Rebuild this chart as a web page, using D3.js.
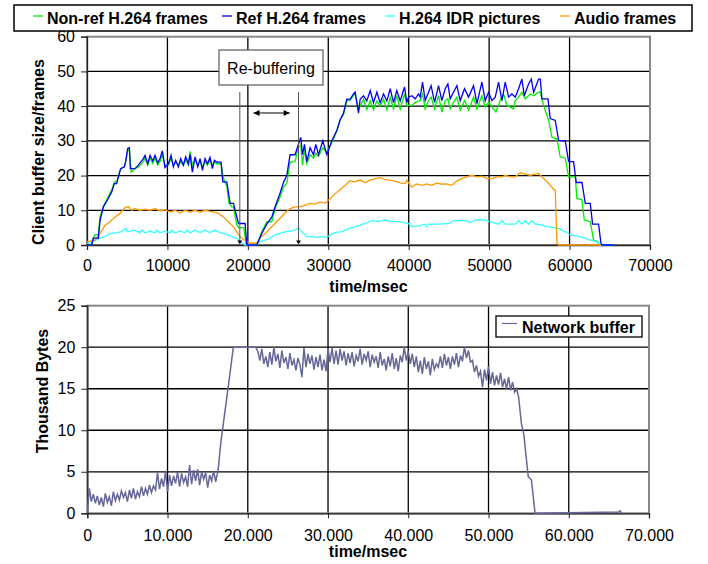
<!DOCTYPE html>
<html>
<head>
<meta charset="utf-8">
<script src="https://cdn.jsdelivr.net/npm/d3@7"></script>
<style>
  body { margin: 0; background: #fff; }
  svg { display: block; font-family: Arial, "Liberation Sans", sans-serif; }
</style>
</head>
<body>
<svg width="708" height="564"></svg>
<script>
// top chart: client buffer, [time ms, frames]
const refFrames = [[0,0],[580,0],[790,2],[1410,2],[1620,7],[2030,11],[2650,13.4],[3070,15.3],[3400,17.7],[3690,17.7],[3900,19.6],[4190,22],[4640,22.5],[4810,24],[5060,27.8],[5270,28],[5390,22],[5970,22],[6390,23],[7010,24.9],[7220,25.8],[7550,23.4],[7840,25.8],[8170,24.2],[8460,25.8],[8790,23.6],[9080,24.9],[9370,27.1],[9700,22.3],[10120,23.4],[10450,25.8],[10740,22.5],[11030,24.4],[11360,22.5],[11650,24.9],[11980,23],[12270,25.4],[12610,23.4],[12810,26.1],[13100,21],[13440,25.4],[13770,22.5],[14060,24.9],[14350,21.5],[14680,24.9],[14970,23.4],[15300,25.2],[15590,22],[15840,24.4],[16130,23.9],[16670,23.9],[16880,18.2],[17380,18.2],[17800,12],[18210,12],[18830,6.2],[19660,6.2],[19870,0],[21100,0],[21730,3.3],[22350,6],[22970,8],[23390,11],[24010,15],[24420,18],[24840,20],[25250,26],[25870,26],[26290,29],[26580,31],[26790,26],[27040,29],[27330,24],[27740,28],[28160,26],[28450,29],[28780,26],[29320,30],[29820,26],[30440,30],[31060,33],[31470,36],[31890,38],[32300,42],[32720,42],[33130,43.5],[33340,44],[33760,38],[33960,42],[34380,43],[34790,41.5],[35210,44.5],[35620,41],[36040,44],[36450,41],[36870,43.5],[37280,41.5],[37700,45],[38110,41],[38520,44.5],[38940,41.5],[39480,45.5],[39770,41],[39970,42.6],[40390,43],[40800,42.1],[41220,43.5],[41430,42.6],[41720,46.9],[42050,41.6],[42460,44],[42790,45.9],[43210,41.1],[43710,45.9],[44120,41.6],[44540,45],[44870,46.4],[45160,42.1],[45570,44],[45990,45.9],[46400,41.6],[46940,45],[47440,42.6],[48060,45.9],[48480,40.7],[49100,46.9],[49510,41.6],[49930,44],[50340,41.6],[50760,42.6],[51170,46.9],[51590,41.6],[52000,46.9],[52420,42.6],[52830,43.5],[53250,42.6],[53660,45],[54070,47.8],[54370,43],[54900,46.4],[55240,47.8],[55530,44],[56150,47.8],[56360,47.8],[56560,42.1],[57310,42.1],[57600,36.4],[58220,35.9],[58640,30.1],[59460,30],[59880,24],[60500,24],[60830,18],[61540,18],[61950,12],[62570,12],[62860,6],[63610,6],[63900,0.5],[64030,0],[65500,0]]

const nonRefFrames = [[0,0],[580,0],[790,2],[1000,3],[1410,3],[1620,8],[2030,11],[2650,14],[3070,15.8],[3400,18.2],[3690,18.2],[3900,20],[4190,22],[4640,22.5],[4810,24],[5060,27.5],[5270,27],[5500,21],[5970,22],[6390,22.5],[7010,24],[7220,25],[7550,23],[7840,25],[8170,23.5],[8460,25],[8790,23],[9080,24],[9370,26],[9700,23],[10120,23],[10450,25],[10740,23],[11030,24],[11360,23],[11650,24],[11980,23],[12270,24.5],[12610,23],[12810,27],[13100,23],[13440,24.5],[13770,23],[14060,24.5],[14350,22.5],[14680,24],[14970,23],[15300,24.5],[15590,23],[15840,24],[16130,23.4],[16670,23.4],[16880,20],[17160,18],[17380,17],[17650,12],[18000,11],[18210,11],[18600,6],[18830,5],[19500,5],[19800,0],[21100,0],[21730,3.8],[22350,6.7],[22970,6.7],[23390,10.5],[24010,13.9],[24420,16.7],[24840,17.7],[25250,23.9],[25870,24],[26290,28.2],[26580,28.7],[26790,23],[27040,27.5],[27330,23.5],[27740,26],[28160,25],[28450,26.5],[28780,25.5],[29320,28],[29820,26.5],[30440,29.5],[31060,32.8],[31470,36],[31890,37.5],[32300,41.5],[32720,41.7],[33130,43],[33340,43.5],[33760,39],[33960,40],[34380,42],[34790,39],[35210,41.5],[35620,39],[36040,41.5],[36450,40],[36870,42],[37280,39],[37700,42.5],[38110,39.2],[38520,43],[38940,39.2],[39480,43.5],[39770,40],[39970,40.2],[40390,40.2],[40800,41.1],[41430,41.6],[41720,43.5],[42050,39.2],[42460,41.6],[42790,42.6],[43210,39.2],[43710,43],[44120,38.3],[44540,41.6],[44870,42.1],[45160,39.2],[45570,41.1],[45990,42.6],[46400,38.8],[46940,41.6],[47440,38.8],[48060,42.6],[48480,39.2],[49100,43],[49510,39.7],[49930,41.1],[50340,39.7],[50840,38.3],[51380,41.6],[51790,43.5],[52210,40.2],[52620,39.7],[53040,39.2],[53250,41.6],[53660,42.6],[54070,44],[54490,42.1],[55110,43.5],[55530,43],[56150,44],[56360,44],[56770,40.2],[57390,35.9],[57810,31],[58430,30.5],[58840,25.4],[59460,25],[59880,19.6],[60710,19.6],[60910,13.4],[61540,13],[61830,7.2],[62570,6.7],[62990,1.4],[63490,1],[63740,0]]

const idrPictures = [[0,0.5],[740,1],[1620,2],[2240,2.4],[2860,3.3],[3480,3.5],[4230,3.8],[4810,4.8],[5020,3.8],[5970,4.3],[6590,3.5],[6800,4.3],[7220,3.5],[7840,4],[8460,3.5],[8670,4.3],[9080,3.5],[9700,4],[10330,3.5],[10540,4.3],[10950,3.5],[11570,4],[12190,3.6],[12400,4.3],[12810,3.5],[13440,4.3],[14060,3.6],[14680,4.3],[15300,3.6],[15920,4.3],[16540,3.5],[17160,3.3],[17990,2.4],[18620,2],[19030,1],[19660,0],[21100,0],[21520,1],[22140,1.4],[22770,2],[23390,2.9],[24630,3.8],[25870,4.3],[26290,5],[26700,3.8],[27330,2.4],[27950,2.4],[28570,2.2],[29200,2.4],[29820,2.2],[30440,3.2],[31060,3.7],[31680,3.8],[32310,4.5],[32930,5],[33760,5.5],[34590,6.2],[35420,7],[36250,6.8],[37070,7.2],[37690,6.8],[38320,6.8],[39140,6.5],[39970,6.2],[40390,5.3],[41220,5.5],[42050,6],[42260,5.3],[42460,6],[43710,6],[44950,6.2],[45570,7],[47230,7],[47650,6.4],[48270,7.2],[49510,7.2],[50130,6.7],[51170,6],[51590,7],[52000,6],[53250,6],[53660,7],[54070,6],[54490,7],[54900,6],[55320,7],[55730,6],[56560,5.8],[56980,5.3],[57810,5.1],[58640,4.8],[59050,4.3],[59460,3.8],[60090,2.9],[61330,2.4],[62570,1.4],[63400,1],[63820,0],[65480,0]]

const audioFrames = [[0,1],[1000,1.4],[1620,3.3],[2240,5.7],[2860,6.7],[3480,8.1],[4100,9.1],[4730,10.8],[5140,11],[5560,10],[5970,10.5],[6590,10],[7220,10.3],[7840,10],[8460,10.5],[9080,9.8],[9700,10.2],[10330,9.5],[10950,10],[11570,9.2],[12190,10],[12810,9.5],[13440,10],[14060,9.5],[14680,10],[15300,9.7],[15920,9.5],[16340,9.1],[16960,8.1],[17580,6.7],[18200,5.3],[18620,3.8],[19030,2.4],[19450,1.6],[19860,1],[20280,0.5],[20690,0.5],[21110,0.5],[21520,2],[22140,3.3],[22770,4.8],[23390,6.2],[24010,7.7],[24630,9.3],[25250,10.5],[25870,11],[26500,11],[27120,11.5],[27740,12],[28360,11.8],[28980,12.4],[29610,12],[30230,13.4],[30850,14.8],[31470,16],[32100,17.2],[32720,18.5],[33340,18.2],[33960,18.7],[34580,17.9],[35210,18.7],[35830,19.1],[36450,19.4],[37070,18.8],[37690,18.7],[38320,18.4],[38940,17.9],[39560,17.7],[39770,18.7],[40180,17.2],[40390,16.7],[41010,17.6],[41630,17.2],[42260,17.6],[42880,17.2],[43500,17.9],[44120,17.5],[44740,17.6],[45370,17.2],[45990,18.4],[46610,19.1],[47230,19.6],[47850,20.1],[48480,19.6],[49100,19.8],[49720,19.1],[50340,19.1],[50960,19.6],[51590,19.6],[52000,20.1],[52620,19.6],[53240,19.6],[53870,20.8],[54490,20.4],[55110,20.1],[55730,20.4],[56150,20.6],[56560,19.6],[56980,18.7],[57600,17.2],[58010,16],[58220,15.8],[58430,0.5],[58640,0],[64000,0]]

// bottom chart: network buffer, [time ms, thousand bytes]
const networkBuffer = [[0,0],[250,3.0],[500,1.4],[750,2.3],[1000,1.2],[1250,2.1],[1500,1.0],[1750,1.9],[2000,0.8],[2250,2.4],[2500,1.3],[2750,2.0],[3000,0.9],[3250,2.6],[3500,1.5],[3750,2.3],[4000,1.6],[4250,2.7],[4500,1.9],[4750,2.5],[5000,1.4],[5250,2.8],[5500,1.8],[5750,3.0],[6000,1.7],[6250,2.6],[6500,2.0],[6750,3.2],[7000,2.1],[7250,3.0],[7500,2.3],[7750,3.4],[8000,2.5],[8250,3.3],[8500,2.8],[8750,4.9],[9000,2.9],[9250,4.2],[9500,3.2],[9750,5.1],[10000,2.6],[10250,4.6],[10500,3.3],[10750,4.5],[11000,3.6],[11250,5.0],[11500,3.2],[11750,4.8],[12000,3.7],[12250,4.4],[12500,3.2],[12750,5.8],[13000,3.5],[13250,5.2],[13500,3.9],[13750,5.3],[14000,3.4],[14250,5.0],[14500,4.1],[14750,4.9],[15000,3.1],[15250,4.6],[15500,3.9],[15750,5.1],[16000,3.8],[16300,5.2],[16650,8.6],[17600,15.5],[18200,20.0],[21000,20.0],
  [21250,19.5],[21500,18.4],[21750,19.8],[22000,18.0],[22250,18.9],[22500,17.6],[22750,19.4],[23000,17.9],[23250,20.0],[23500,18.3],[23750,19.2],[24000,17.5],[24250,19.6],[24500,18.1],[24750,18.8],[25000,17.4],[25250,19.3],[25500,17.8],[25750,18.5],[26000,17.2],[26250,18.7],[26500,17.9],[26750,16.4],[27000,19.9],[27250,17.6],[27500,19.2],[27750,18.0],[28000,19.0],[28250,17.3],[28500,18.8],[28750,17.6],[29000,19.1],[29250,17.2],[29500,18.5],[29750,17.1],[30000,19.8],[30250,18.2],[30500,19.9],[30750,18.0],[31000,19.6],[31250,17.9],[31500,19.8],[31750,18.4],[32000,19.5],[32250,17.8],[32500,19.3],[32750,18.1],[33000,19.4],[33250,17.7],[33500,19.0],[33750,18.3],[34000,19.8],[34250,17.9],[34500,19.2],[34750,18.4],[35000,19.5],[35250,17.6],[35500,19.1],[35750,18.2],[36000,18.9],[36250,17.5],[36500,19.4],[36750,17.8],[37000,18.6],[37250,17.2],[37500,18.9],[37750,17.7],[38000,19.3],[38250,17.4],[38500,18.7],[38750,17.1],[39000,19.0],[39250,18.2],[39500,20.0],[39750,18.4],[40000,19.5],[40250,18.0],[40500,19.2],[40750,17.6],[41000,18.9],[41250,17.0],[41500,18.4],[41750,16.8],[42000,18.8],[42250,17.4],[42500,18.3],[42750,16.6],[43000,18.6],[43250,17.3],[43500,18.0],[43750,17.6],[44000,18.9],[44250,17.5],[44500,19.2],[44750,17.8],[45000,18.8],[45250,17.4],[45500,18.9],[45750,17.9],[46000,19.3],[46250,17.6],[46500,19.0],[46750,18.3],[47000,20.0],[47250,18.7],[47500,19.6],[47750,18.2],[48000,18.4],[48250,17.0],[48500,17.8],[48750,16.5],[49000,17.1],[49250,15.2],[49500,17.3],[49750,16.0],[50000,17.7],[50250,15.6],[50500,17.0],[50750,15.4],[51000,16.6],[51250,15.5],[51500,16.9],[51750,15.2],[52000,16.2],[52250,15.0],[52500,16.4],[52750,14.8],[53000,15.8],[53250,14.6],[53500,15.0],[53750,14.0],
  [54100,10.8],[54400,9.5],[54950,4.4],[55350,4.0],[55800,0],[66200,0.15],[66400,0.3],[66600,0]]

const topSeries = ['Non-ref H.264 frames', 'Ref H.264 frames', 'H.264 IDR pictures', 'Audio frames']
const topColors = ['#00ee00', '#0000ee', '#33ffff', '#ff9900']
const topXTicks = [0, 10000, 20000, 30000, 40000, 50000, 60000, 70000]
const topYTicks = [0, 10, 20, 30, 40, 50, 60]
const botXTicks = [0, 10000, 20000, 30000, 40000, 50000, 60000, 70000]
const botYTicks = [0, 5, 10, 15, 20, 25]

const svg = d3.select('svg')
const de = d3.formatLocale({ decimal: ',', thousands: '.', grouping: [3], currency: ['', ''] })

function drawFrame (g, x, y, xTicks, yTicks, fmt, labelPad) {
  const [x0, x1] = x.range()
  const [y0, y1] = y.range()
  // grid
  g.selectAll('.hg').data(yTicks.slice(1, -1)).enter().append('line')
    .attr('x1', x0).attr('x2', x1).attr('y1', d => y(d)).attr('y2', d => y(d))
    .attr('stroke', '#000').attr('stroke-width', 1.3)
  g.selectAll('.vg').data(xTicks.slice(1, -1)).enter().append('line')
    .attr('y1', y0).attr('y2', y1).attr('x1', d => x(d)).attr('x2', d => x(d))
    .attr('stroke', '#000').attr('stroke-width', 1.3)
  g.append('rect').attr('x', x0).attr('y', y1).attr('width', x1 - x0).attr('height', y0 - y1)
    .attr('fill', 'none').attr('stroke', '#888').attr('stroke-width', 2)

  const ya = g.append('g').attr('transform', 'translate(' + x0 + ',0)')
    .call(d3.axisLeft(y).tickValues(yTicks).tickSize(6).tickPadding(6))
  const xa = g.append('g').attr('transform', 'translate(0,' + y0 + ')')
    .call(d3.axisBottom(x).tickValues(xTicks).tickFormat(fmt).tickSize(5).tickPadding(labelPad))
  ;[ya, xa].forEach(a => {
    a.select('.domain').attr('stroke', '#222').attr('stroke-width', 1.3)
    a.selectAll('line').attr('stroke', '#222')
    a.selectAll('text').attr('font-size', '16px').attr('fill', '#000')
      .style('font-family', 'Arial, "Liberation Sans", sans-serif')
  })
}

function drawTop () {
  const x = d3.scaleLinear().domain([0, 70000]).range([87, 650])
  const y = d3.scaleLinear().domain([0, 60]).range([245, 36.7])
  const g = svg.append('g')
  drawFrame(g, x, y, topXTicks, topYTicks, d3.format('d'), 9.5)

  const line = d3.line().x(d => x(d[0])).y(d => y(d[1]))
  const data = [nonRefFrames, idrPictures, audioFrames, refFrames]
  const cols = [topColors[0], topColors[2], topColors[3], topColors[1]]
  data.forEach((s, i) => {
    g.append('path').datum(s).attr('d', line)
      .attr('fill', 'none').attr('stroke', cols[i]).attr('stroke-width', 1.3)
  })

  // re-buffering annotation
  const arrowX = [19000, 26300]
  g.selectAll('.arr').data(arrowX).enter().append('line')
    .attr('x1', d => x(d)).attr('x2', d => x(d)).attr('y1', 92).attr('y2', y(0.8))
    .attr('stroke', '#555').attr('stroke-width', 1)
  g.selectAll('.ah').data(arrowX).enter().append('path')
    .attr('d', d => 'M' + (x(d) - 2.5) + ',' + y(1.3) + 'L' + (x(d) + 2.5) + ',' + y(1.3) + 'L' + x(d) + ',' + y(0.2) + 'Z')
    .attr('fill', '#000')
  const hy = 113
  const ha = x(20700)
  const hb = x(25200)
  g.append('line').attr('x1', ha).attr('x2', hb).attr('y1', hy).attr('y2', hy).attr('stroke', '#000').attr('stroke-width', 1)
  g.append('path').attr('d', 'M' + ha + ',' + hy + 'l6,-3v6Z M' + hb + ',' + hy + 'l-6,-3v6Z').attr('fill', '#000')
  g.append('rect').attr('x', 219).attr('y', 50).attr('width', 104).attr('height', 35)
    .attr('fill', '#fff').attr('stroke', '#666').attr('stroke-width', 1.3)
  g.append('text').attr('x', 271).attr('y', 73.5).attr('text-anchor', 'middle')
    .attr('font-size', '16px').text('Re-buffering')

  // axis titles
  svg.append('text').attr('x', 368.5).attr('y', 292).attr('text-anchor', 'middle')
    .attr('font-size', '16px').attr('font-weight', 'bold').text('time/msec')
  svg.append('text').attr('transform', 'translate(44,152) rotate(-90)').attr('text-anchor', 'middle')
    .attr('font-size', '16px').attr('font-weight', 'bold').text('Client buffer size/frames')

  // legend
  const lg = svg.append('g')
  lg.append('rect').attr('x', 14).attr('y', 5).attr('width', 678).attr('height', 26)
    .attr('fill', '#fff').attr('stroke', '#000').attr('stroke-width', 1.5)
  const lx = [33, 222, 385, 560]
  topSeries.forEach((s, i) => {
    lg.append('line').attr('x1', lx[i]).attr('x2', lx[i] + 10).attr('y1', 16).attr('y2', 16)
      .attr('stroke', topColors[i]).attr('stroke-width', 1.3)
    lg.append('text').attr('x', lx[i] + 14).attr('y', 24).attr('font-size', '16px')
      .attr('font-weight', 'bold').text(s)
  })
}

function drawBottom () {
  const x = d3.scaleLinear().domain([0, 70000]).range([87.3, 649])
  const y = d3.scaleLinear().domain([0, 25]).range([513.3, 305.7])
  const g = svg.append('g')
  drawFrame(g, x, y, botXTicks, botYTicks, de.format(','), 11)

  const line = d3.line().x(d => x(d[0])).y(d => y(d[1]))
  g.append('path').datum(networkBuffer).attr('d', line)
    .attr('fill', 'none').attr('stroke', '#666699').attr('stroke-width', 1.5)

  g.append('rect').attr('x', 496).attr('y', 316).attr('width', 146).attr('height', 21)
    .attr('fill', '#fff').attr('stroke', '#000').attr('stroke-width', 1.3)
  g.append('line').attr('x1', 502).attr('x2', 517).attr('y1', 323.5).attr('y2', 323.5)
    .attr('stroke', '#666699').attr('stroke-width', 1.2)
  g.append('text').attr('x', 522).attr('y', 332.5).attr('font-size', '16px')
    .attr('font-weight', 'bold').text('Network buffer')

  svg.append('text').attr('x', 368).attr('y', 557).attr('text-anchor', 'middle')
    .attr('font-size', '16px').attr('font-weight', 'bold').text('time/msec')
  svg.append('text').attr('transform', 'translate(48,391) rotate(-90)').attr('text-anchor', 'middle')
    .attr('font-size', '16px').attr('font-weight', 'bold').text('Thousand Bytes')
}

drawTop()
drawBottom()
</script>
</body>
</html>
